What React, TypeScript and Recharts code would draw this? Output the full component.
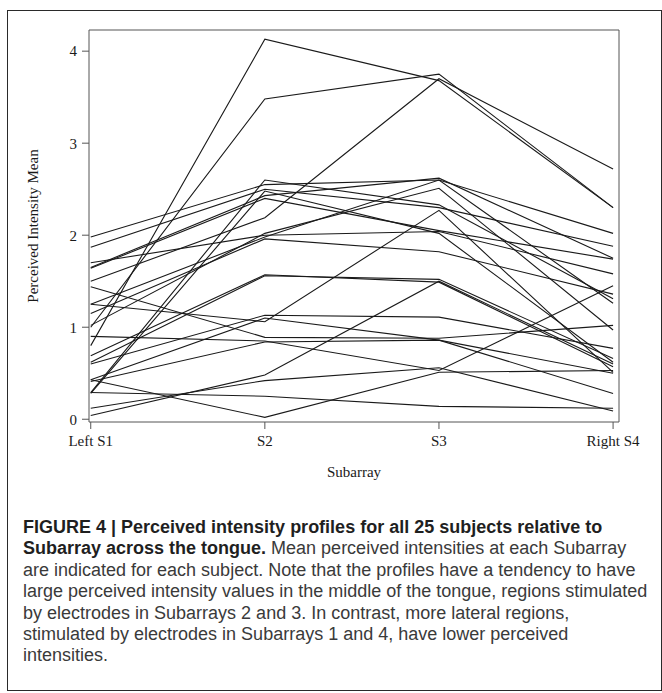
import React from 'react';
import { LineChart, Line, XAxis, YAxis, ReferenceArea } from 'recharts';

const subarrays = ['Left S1', 'S2', 'S3', 'Right S4'];
const yTicks = [0, 1, 2, 3, 4];

// Mean perceived intensity of each subject (same order in every array) at each subarray
const leftS1 = [0.8, 1.0, 1.5, 1.98, 1.87, 1.65, 1.64, 1.7, 0.29, 0.28, 1.25, 1.15, 1.02, 0.69, 0.62, 1.44, 0.6, 1.25, 0.43, 0.29, 0.04, 0.12, 0.41, 0.9, 0.43];
const s2 = [4.13, 3.48, 2.19, 2.55, 2.5, 2.43, 2.4, 2.0, 2.6, 2.48, 1.98, 1.96, 2.02, 1.57, 1.56, 0.89, 1.13, 1.06, 0.02, 0.25, 0.48, 0.42, 0.84, 0.85, 1.1];
const s3 = [3.68, 3.75, 3.7, 2.6, 2.3, 2.62, 2.05, 2.04, 2.33, 2.02, 2.6, 1.82, 2.51, 1.49, 1.52, 0.88, 1.11, 2.27, 0.51, 0.14, 1.5, 0.56, 0.86, 0.53, 0.86];
const rightS4 = [2.3, 2.3, 2.72, 2.02, 1.88, 1.75, 1.74, 1.58, 1.31, 0.62, 1.26, 1.36, 0.97, 0.57, 0.66, 1.02, 0.77, 0.51, 0.53, 0.12, 0.6, 0.09, 0.5, 1.45, 0.28];

const columns = [leftS1, s2, s3, rightS4];
const subjectKeys = leftS1.map((_, k) => `subject${k + 1}`);

const data = subarrays.map((name, i) => {
  const row: Record<string, number | string> = { pos: i, name };
  columns[i].forEach((v, k) => {
    row[subjectKeys[k]] = v;
  });
  return row;
});

const X_DOMAIN: [number, number] = [-0.01, 3.034];
const Y_DOMAIN: [number, number] = [-0.03, 4.23];

const serif = '"Liberation Serif", "Times New Roman", serif';
const sans = '"Liberation Sans", Arial, Helvetica, sans-serif';

export default function App() {
  return (
    <div style={{ position: 'absolute', left: 0, top: 0, width: 662, height: 693 }}>
      <div
        style={{
          position: 'absolute',
          left: 7,
          top: 10,
          width: 653,
          height: 679,
          border: '1px solid #2a2a2a',
        }}
      />
      <div style={{ position: 'absolute', left: 0, top: 0 }}>
        <LineChart
          width={662}
          height={480}
          data={data}
          margin={{ top: 30, right: 43, bottom: 0, left: 0 }}
        >
          <XAxis
            dataKey="pos"
            type="number"
            domain={X_DOMAIN}
            ticks={[0, 1, 2, 3]}
            tickFormatter={(v: number) => subarrays[v] ?? ''}
            axisLine={false}
            tickLine={{ stroke: '#555' }}
            tickSize={7}
            tickMargin={6}
            height={58}
            tick={{ fill: '#1a1a1a', fontSize: 15, fontFamily: serif }}
            allowDataOverflow
            label={{
              value: 'Subarray',
              position: 'insideBottom',
              offset: 3,
              fill: '#1a1a1a',
              fontSize: 15,
              fontFamily: serif,
            }}
          />
          <YAxis
            type="number"
            domain={Y_DOMAIN}
            ticks={yTicks}
            axisLine={false}
            tickLine={{ stroke: '#555' }}
            tickSize={7}
            tickMargin={5}
            width={89}
            tick={{ fill: '#1a1a1a', fontSize: 15, fontFamily: serif }}
            allowDataOverflow
            label={{
              value: 'Perceived Intensity Mean',
              angle: -90,
              position: 'insideLeft',
              offset: 33,
              fill: '#1a1a1a',
              fontSize: 15,
              fontFamily: serif,
              style: { textAnchor: 'middle' },
            }}
          />
          <ReferenceArea
            x1={X_DOMAIN[0]}
            x2={X_DOMAIN[1]}
            y1={Y_DOMAIN[0]}
            y2={Y_DOMAIN[1]}
            fill="none"
            stroke="#555"
            strokeWidth={1}
            ifOverflow="visible"
          />
          {subjectKeys.map((key) => (
            <Line
              key={key}
              dataKey={key}
              type="linear"
              stroke="#1a1a1a"
              strokeWidth={1.1}
              dot={false}
              activeDot={false}
              isAnimationActive={false}
            />
          ))}
        </LineChart>
      </div>
      <div
        style={{
          position: 'absolute',
          left: 23,
          top: 517,
          fontFamily: sans,
          fontSize: 18,
          lineHeight: '21.4px',
          color: '#3a3a3a',
          whiteSpace: 'nowrap',
        }}
      >
        <div style={{ fontWeight: 'bold', color: '#1f1f1f' }}>
          FIGURE 4 | Perceived intensity profiles for all 25 subjects relative to
        </div>
        <div>
          <span style={{ fontWeight: 'bold', color: '#1f1f1f' }}>Subarray across the tongue.</span> Mean perceived
          intensities at each Subarray
        </div>
        <div>are indicated for each subject. Note that the profiles have a tendency to have</div>
        <div>large perceived intensity values in the middle of the tongue, regions stimulated</div>
        <div>by electrodes in Subarrays 2 and 3. In contrast, more lateral regions,</div>
        <div>stimulated by electrodes in Subarrays 1 and 4, have lower perceived</div>
        <div>intensities.</div>
      </div>
    </div>
  );
}
